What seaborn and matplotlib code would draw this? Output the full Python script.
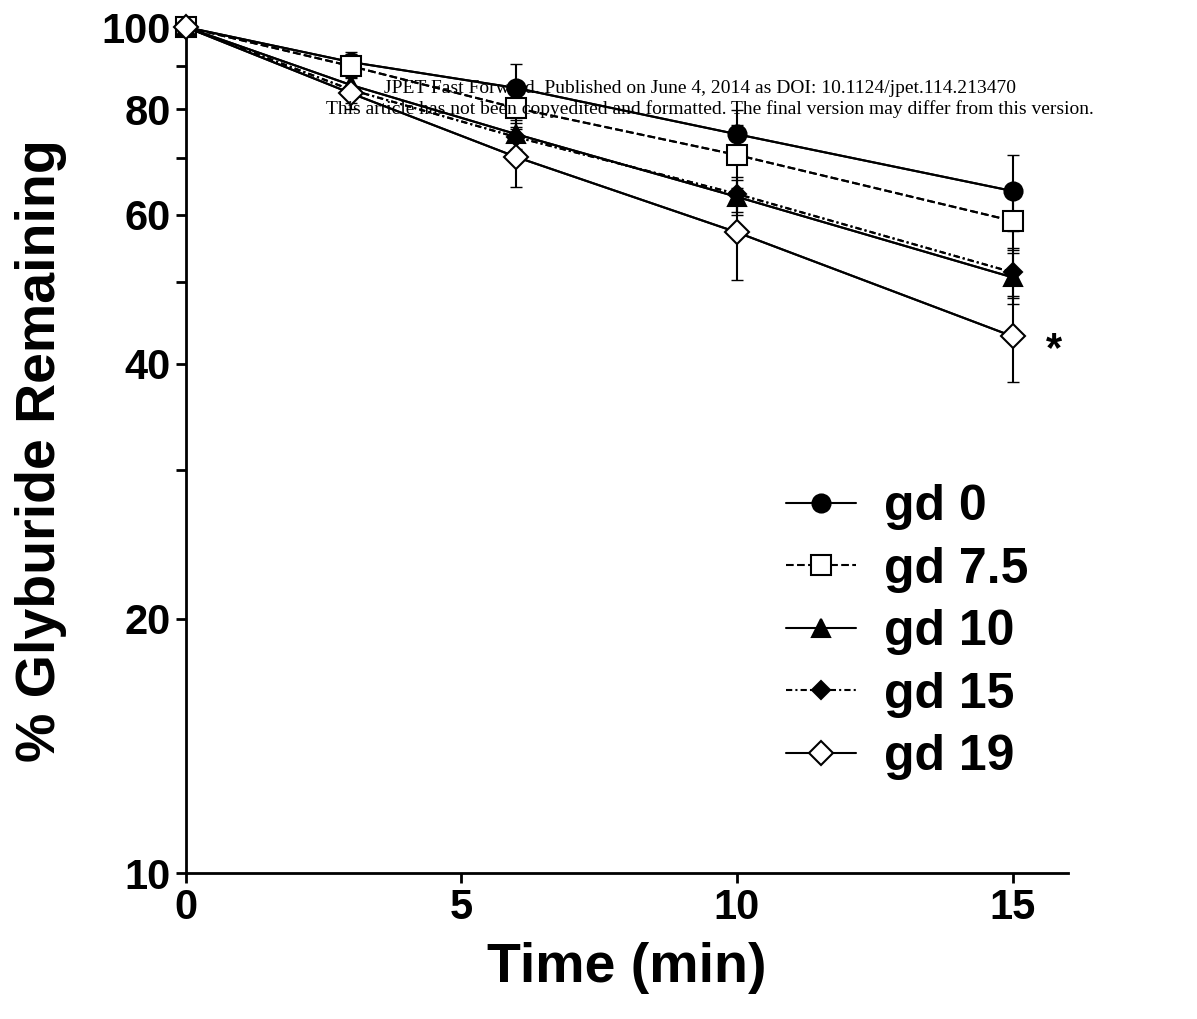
import matplotlib
matplotlib.use("Agg")
import matplotlib.pyplot as plt
import seaborn as sns
import numpy as np
from matplotlib.ticker import FixedLocator, NullFormatter

sns.set_theme(style="ticks")
plt.rcParams['font.family'] = ['Liberation Sans', 'DejaVu Sans']
plt.rcParams['text.color'] = 'black'
plt.rcParams['axes.labelcolor'] = 'black'

time = [0, 3, 6, 10, 15]
groups = ["gd 0", "gd 7.5", "gd 10", "gd 15", "gd 19"]
means = {
    "gd 0":   [100, 90.9, 84.7, 74.7, 64.0],
    "gd 7.5": [100, 89.9, 80.2, 70.6, 59.0],
    "gd 10":  [100, 85.4, 74.7, 63.0, 50.6],
    "gd 15":  [100, 84.3, 74.1, 63.5, 51.3],
    "gd 19":  [100, 83.5, 70.2, 57.2, 43.1],
}
sds = {
    "gd 0":   [0, 2.5, 5.7, 5.0, 6.6],
    "gd 7.5": [0, 2.0, 4.0, 6.0, 4.5],
    "gd 10":  [0, 3.0, 3.0, 3.0, 3.5],
    "gd 15":  [0, 3.0, 3.0, 3.0, 3.5],
    "gd 19":  [0, 3.5, 5.5, 7.0, 5.0],
}
styles = {
    "gd 0":   dict(marker="o", ls="-", mfc="black"),
    "gd 7.5": dict(marker="s", ls="--", mfc="white"),
    "gd 10":  dict(marker="^", ls="-", mfc="black"),
    "gd 15":  dict(marker="D", ls=(0, (3, 1.5, 1, 1.5)), mfc="black"),
    "gd 19":  dict(marker="D", ls="-", mfc="white"),
}
sizes = {"gd 0": 13, "gd 7.5": 14, "gd 10": 13, "gd 15": 9, "gd 19": 12}

fig = plt.figure(figsize=(11.97, 10.19), dpi=100)
ax = fig.add_axes([0.155, 0.143, 0.737, 0.8305])

for g in groups:
    st = styles[g]
    sns.lineplot(x=time, y=means[g], ax=ax, color="black", lw=1.5,
                 linestyle=st["ls"], legend=False)
    eb = ax.errorbar(time, means[g], yerr=sds[g], fmt="none", ecolor="black",
                     elinewidth=1.5, capsize=4)
    for art in eb.lines[1] + eb.lines[2]:
        art.set_clip_on(False)
    ax.plot(time, means[g], ls=st["ls"], color="black", lw=1.5,
            marker=st["marker"], ms=sizes[g], mfc=st["mfc"], mec="black",
            mew=1.5, label=g, zorder=5, clip_on=False)

ax.set_yscale("log")
ax.set_ylim(10, 100)
ax.set_xlim(0, 16)
ax.yaxis.set_major_locator(FixedLocator([10, 20, 40, 60, 80, 100]))
ax.yaxis.set_minor_locator(FixedLocator([30, 50, 70, 90]))
ax.yaxis.set_minor_formatter(NullFormatter())
ax.set_yticklabels(["10", "20", "40", "60", "80", "100"])
ax.set_xticks([0, 5, 10, 15])
for s in ["top", "right"]:
    ax.spines[s].set_visible(False)
for s in ["left", "bottom"]:
    ax.spines[s].set_linewidth(2)
    ax.spines[s].set_color("black")
ax.tick_params(which="both", width=2, length=7, colors="black", labelsize=30)
for lab in ax.get_xticklabels() + ax.get_yticklabels():
    lab.set_fontweight("bold")
ax.set_xlabel("Time (min)", fontsize=40, fontweight="bold", labelpad=10)
ax.set_ylabel("% Glyburide Remaining", fontsize=40, fontweight="bold", labelpad=25)

ax.text(15.75, 41.5, "*", fontsize=30, fontweight="bold", ha="center", va="center")

leg = ax.legend(loc="upper left", bbox_to_anchor=(0.63, 0.513), frameon=False,
                prop=dict(size=36, weight="bold"), handlelength=1.4,
                labelspacing=0.33, handletextpad=0.55)

fig.text(0.585, 0.909, "JPET Fast Forward. Published on June 4, 2014 as DOI: 10.1124/jpet.114.213470",
         ha="center", fontsize=14, family="Liberation Serif")
fig.text(0.593, 0.888, "This article has not been copyedited and formatted. The final version may differ from this version.",
         ha="center", fontsize=14, family="Liberation Serif")

fig.savefig("out.png", dpi=100)
